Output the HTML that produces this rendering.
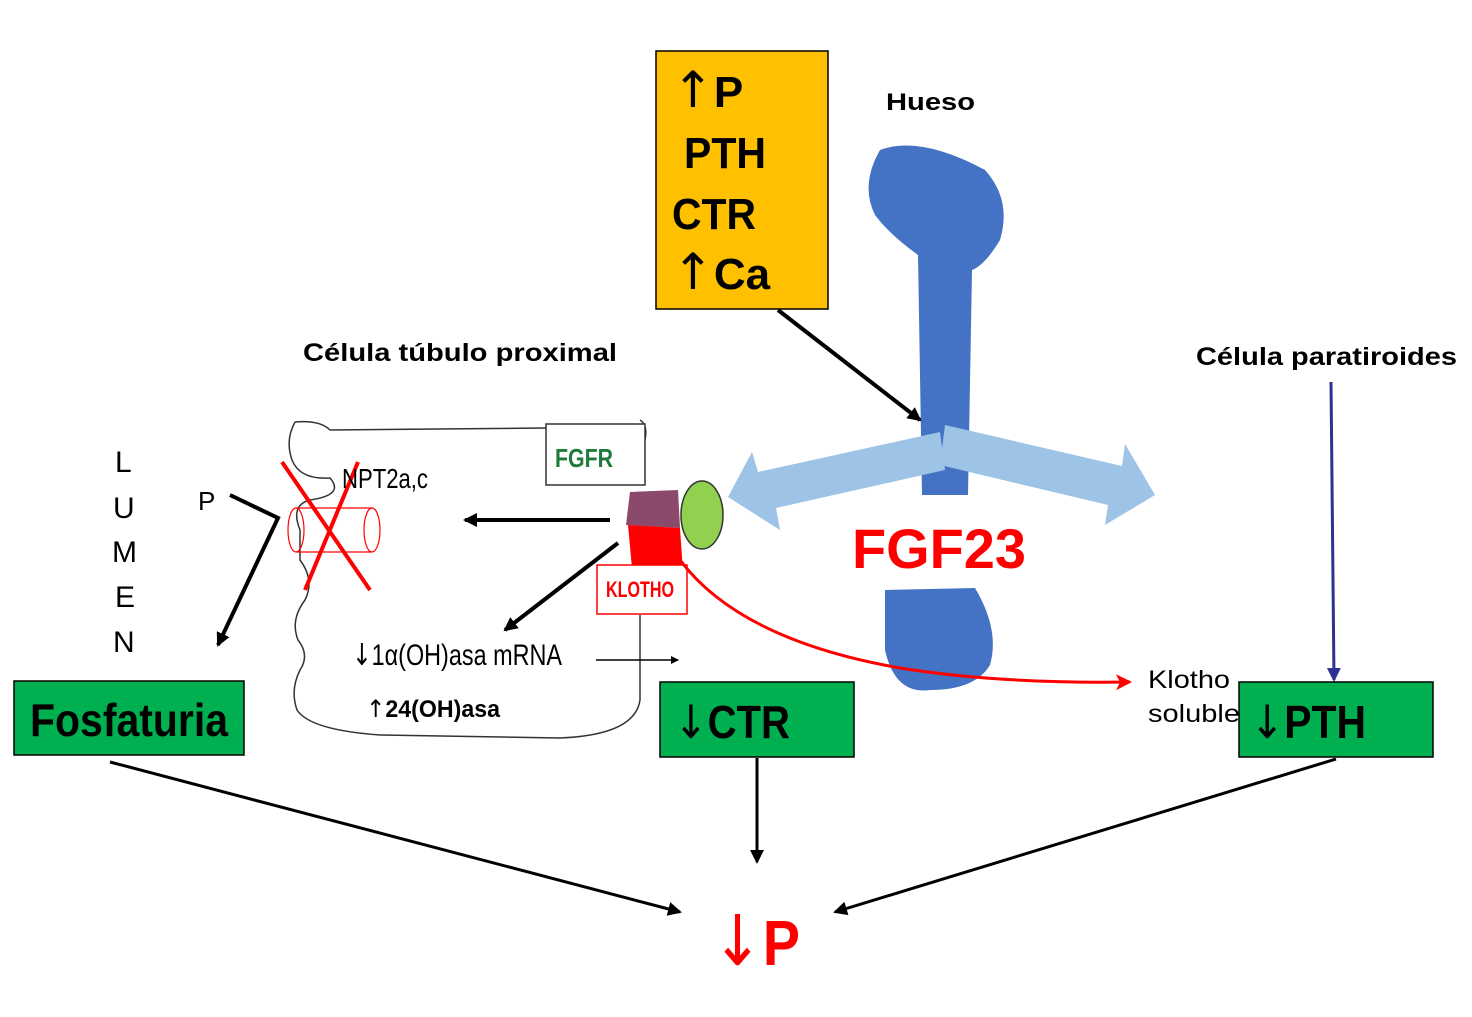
<!DOCTYPE html>
<html><head><style>
body{margin:0;background:#fff;}
svg text{font-family:"Liberation Sans",sans-serif;}
.ar{font-family:"DejaVu Sans",sans-serif;font-weight:normal;}
</style></head><body>
<svg width="1472" height="1012" viewBox="0 0 1472 1012" xmlns="http://www.w3.org/2000/svg">
<defs>
<marker id="ah" markerWidth="8" markerHeight="8" refX="7" refY="4" orient="auto" markerUnits="userSpaceOnUse"><path d="M0,0 L8,4 L0,8 z" fill="#000"/></marker>
<marker id="ahb" markerWidth="14" markerHeight="14" refX="12" refY="7" orient="auto" markerUnits="userSpaceOnUse"><path d="M0,0 L14,7 L0,14 z" fill="#000"/></marker>
<marker id="ahr" markerWidth="16" markerHeight="16" refX="14" refY="8" orient="auto" markerUnits="userSpaceOnUse"><path d="M0,0 L16,8 L0,16 L4,8 z" fill="#f00"/></marker>
<marker id="ahn" markerWidth="14" markerHeight="14" refX="12" refY="7" orient="auto" markerUnits="userSpaceOnUse"><path d="M0,0 L14,7 L0,14 z" fill="#2e3192"/></marker>
</defs>
<rect x="656" y="51" width="172" height="258" fill="#ffc000" stroke="#000" stroke-width="1.5"/>
<text x="672" y="107" font-size="44" font-weight="bold"><tspan class="ar" font-size="50">↑</tspan>P</text>
<text x="684" y="168" font-size="44" font-weight="bold" textLength="82" lengthAdjust="spacingAndGlyphs">PTH</text>
<text x="672" y="229" font-size="44" font-weight="bold" textLength="84" lengthAdjust="spacingAndGlyphs">CTR</text>
<text x="672" y="289" font-size="44" font-weight="bold"><tspan class="ar" font-size="50">↑</tspan>Ca</text>
<text x="886" y="110" font-size="24" font-weight="bold" textLength="89" lengthAdjust="spacingAndGlyphs">Hueso</text>
<path d="M880,150 Q920,135 985,170 Q1012,200 1000,240 Q985,265 972,270 L968,495 L922,495 L918,255 Q890,235 875,215 Q860,185 880,150 z" fill="#4472c4"/>
<path d="M885,590 L975,588 Q1000,630 990,665 Q975,690 930,690 Q895,695 885,650 z" fill="#4472c4"/>
<line x1="778" y1="310" x2="920" y2="420" stroke="#000" stroke-width="4" marker-end="url(#ahb)"/>
<path d="M940,432 L758,472 L752,452 L728,497 L780,530 L776,508 L945,470 z" fill="#9dc3e6"/>
<path d="M945,425 L1122,466 L1125,444 L1155,495 L1105,525 L1108,505 L940,465 z" fill="#9dc3e6"/>
<text x="852" y="568" font-size="56" font-weight="bold" fill="#f00" textLength="174" lengthAdjust="spacingAndGlyphs">FGF23</text>
<text x="303" y="361" font-size="25" font-weight="bold" textLength="314" lengthAdjust="spacingAndGlyphs">Célula túbulo proximal</text>
<text x="1196" y="365" font-size="25" font-weight="bold" textLength="261" lengthAdjust="spacingAndGlyphs">Célula paratiroides</text>
<line x1="1331" y1="382" x2="1334" y2="680" stroke="#2e3192" stroke-width="3" marker-end="url(#ahn)"/>
<g font-size="30">
<text x="115" y="472">L</text><text x="113" y="518">U</text><text x="112" y="562">M</text><text x="115" y="607">E</text><text x="113" y="652">N</text></g>
<text x="198" y="510" font-size="26">P</text>
<path d="M295,422 Q285,440 292,460 Q300,480 330,478 Q345,495 310,500 Q290,505 300,530 L300,560 Q315,580 305,600 Q290,620 298,640 Q310,655 300,670 Q290,690 297,710 Q310,730 380,735 L560,738 Q635,735 640,700 L640,615 M645,440 Q648,425 640,420 M546,428 L330,430 Q320,420 295,422" fill="none" stroke="#333" stroke-width="1.5"/>
<rect x="546" y="424" width="99" height="61" fill="#fff" stroke="#333" stroke-width="1.5"/>
<text x="555" y="467" font-size="26" font-weight="bold" fill="#1f7a3c" textLength="58" lengthAdjust="spacingAndGlyphs">FGFR</text>
<path d="M230,495 L278,518 L218,645" fill="none" stroke="#000" stroke-width="4" marker-end="url(#ahb)"/>
<g stroke="#f00" stroke-width="1.2" fill="none">
<ellipse cx="296" cy="530" rx="8" ry="22"/><ellipse cx="372" cy="530" rx="8" ry="22"/>
<line x1="296" y1="508" x2="372" y2="508"/><line x1="296" y1="552" x2="372" y2="552"/></g>
<line x1="282" y1="462" x2="370" y2="590" stroke="#f00" stroke-width="4"/>
<line x1="358" y1="462" x2="305" y2="590" stroke="#f00" stroke-width="4"/>
<text x="342" y="488" font-size="28" textLength="86" lengthAdjust="spacingAndGlyphs">NPT2a,c</text>
<line x1="610" y1="520" x2="465" y2="520" stroke="#000" stroke-width="4" marker-end="url(#ahb)"/>
<line x1="618" y1="543" x2="505" y2="630" stroke="#000" stroke-width="4" marker-end="url(#ahb)"/>
<text x="352" y="665" font-size="30" textLength="210" lengthAdjust="spacingAndGlyphs"><tspan class="ar">↓</tspan>1α(OH)asa mRNA</text>
<text x="366" y="717" font-size="24" font-weight="bold" textLength="134" lengthAdjust="spacingAndGlyphs"><tspan class="ar">↑</tspan>24(OH)asa</text>
<line x1="596" y1="660" x2="678" y2="660" stroke="#000" stroke-width="1.5" marker-end="url(#ah)"/>
<path d="M630,492 L678,490 L680,528 L626,525 z" fill="#8b4a6b"/>
<path d="M628,525 L680,528 L683,572 L632,568 z" fill="#f00"/>
<rect x="597" y="565" width="90" height="49" fill="#fff" stroke="#f00" stroke-width="1.5"/>
<text x="606" y="597" font-size="22" font-weight="bold" fill="#f00" textLength="68" lengthAdjust="spacingAndGlyphs">KLOTHO</text>
<ellipse cx="702" cy="515" rx="21" ry="34" fill="#92d050" stroke="#333" stroke-width="1.5"/>
<path d="M680,560 Q740,640 900,668 Q1000,684 1130,682" fill="none" stroke="#f00" stroke-width="3" marker-end="url(#ahr)"/>
<text x="1148" y="688" font-size="25" textLength="82" lengthAdjust="spacingAndGlyphs">Klotho</text>
<text x="1148" y="722" font-size="25" textLength="92" lengthAdjust="spacingAndGlyphs">soluble</text>
<rect x="14" y="681" width="230" height="74" fill="#00b050" stroke="#000" stroke-width="1.5"/>
<text x="30" y="736" font-size="46" font-weight="bold" textLength="198" lengthAdjust="spacingAndGlyphs">Fosfaturia</text>
<rect x="660" y="682" width="194" height="75" fill="#00b050" stroke="#000" stroke-width="1.5"/>
<text x="674" y="738" font-size="46" font-weight="bold" textLength="116" lengthAdjust="spacingAndGlyphs"><tspan class="ar">↓</tspan>CTR</text>
<rect x="1239" y="682" width="194" height="75" fill="#00b050" stroke="#000" stroke-width="1.5"/>
<text x="1250" y="738" font-size="46" font-weight="bold" textLength="116" lengthAdjust="spacingAndGlyphs"><tspan class="ar">↓</tspan>PTH</text>
<line x1="110" y1="762" x2="680" y2="912" stroke="#000" stroke-width="3" marker-end="url(#ahb)"/>
<line x1="757" y1="758" x2="757" y2="862" stroke="#000" stroke-width="3" marker-end="url(#ahb)"/>
<line x1="1336" y1="759" x2="835" y2="912" stroke="#000" stroke-width="3" marker-end="url(#ahb)"/>
<text x="712" y="965" font-size="64" font-weight="bold" fill="#f00" textLength="88" lengthAdjust="spacingAndGlyphs"><tspan class="ar" font-size="70">↓</tspan>P</text>
</svg>
</body></html>
